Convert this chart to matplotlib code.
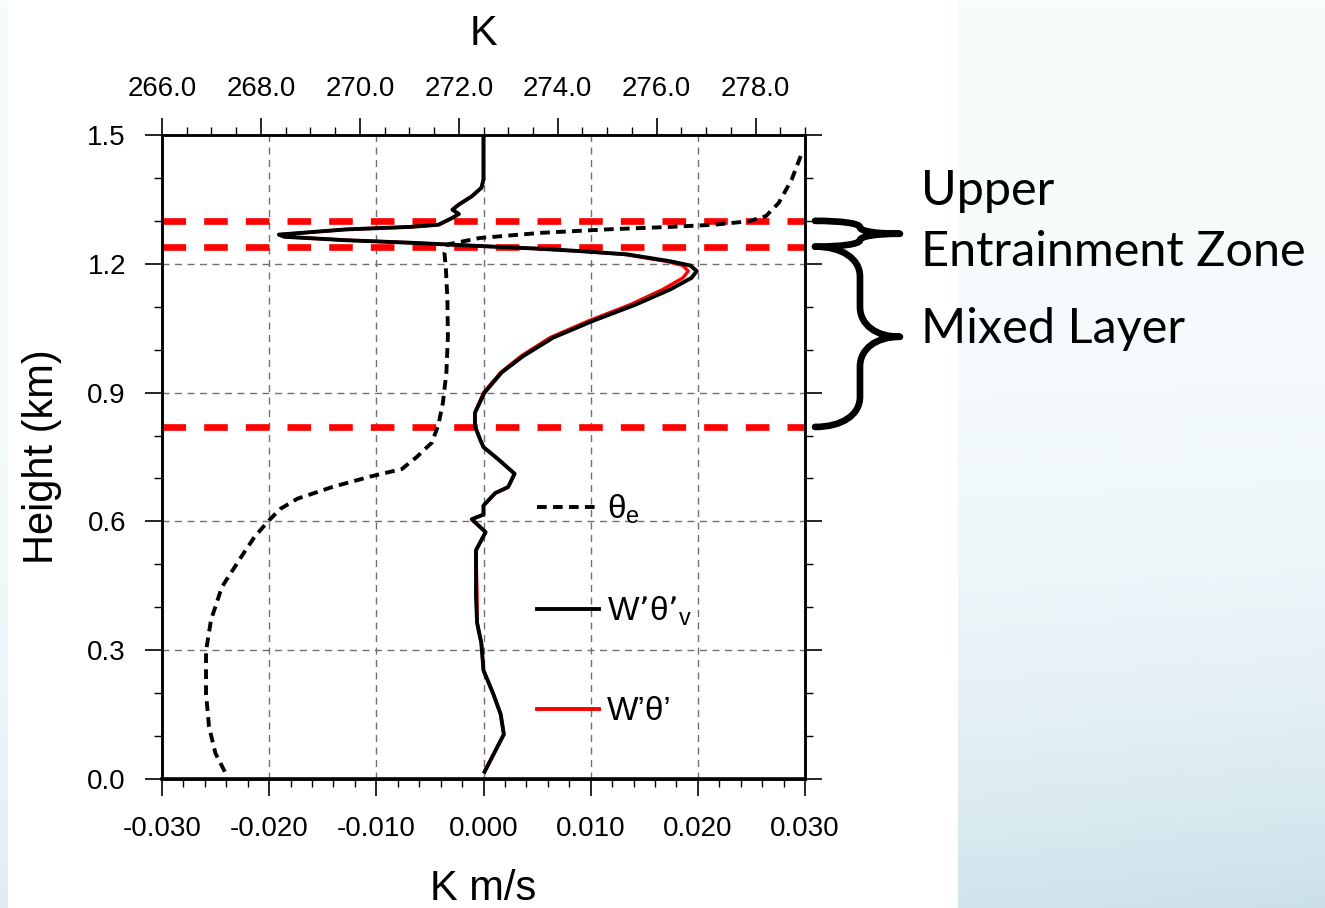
import numpy as np
import matplotlib
matplotlib.use("Agg")
import matplotlib.pyplot as plt
from matplotlib.lines import Line2D
from matplotlib.path import Path
from matplotlib.patches import PathPatch
import matplotlib.transforms as mtransforms

plt.rcParams['font.family'] = ['Liberation Sans', 'DejaVu Sans']
plt.rcParams['axes.unicode_minus'] = False
plt.rcParams['lines.scale_dashes'] = False

# ---- buoyancy flux W'theta'_v (K m/s) vs height (km)
wtv_height = [0.017, 0.104, 0.151, 0.199, 0.253, 0.316, 0.364, 0.424, 0.533, 0.575,
              0.605, 0.616, 0.637, 0.666, 0.680, 0.711, 0.742, 0.773, 0.790, 0.822,
              0.853, 0.900, 0.947, 0.985, 1.028, 1.067, 1.105, 1.140, 1.167, 1.183,
              1.196, 1.206, 1.222, 1.229, 1.235, 1.241, 1.249, 1.255, 1.263, 1.268,
              1.280, 1.286, 1.291, 1.307, 1.316, 1.326, 1.338, 1.357, 1.377, 1.396,
              1.500]
wtv_flux = [0.0001, 0.0019, 0.0016, 0.0009, 0.0000, -0.0002, -0.0006, -0.0007, -0.0007, 0.0002,
            -0.0011, 0.0000, 0.0000, 0.0011, 0.0023, 0.0029, 0.0015, 0.0000, -0.0003, -0.0008,
            -0.0008, 0.0001, 0.0017, 0.0037, 0.0065, 0.0102, 0.0142, 0.0174, 0.0194, 0.0199,
            0.0193, 0.0174, 0.0134, 0.0094, 0.0053, 0.0000, -0.0068, -0.0129, -0.0186, -0.0191,
            -0.0129, -0.0068, -0.0042, -0.0029, -0.0023, -0.0029, -0.0023, -0.0011, -0.0002, 0.0000,
            0.0000]

# ---- heat flux W'theta' (K m/s)
wt_height = wtv_height
wt_flux = [0.0001, 0.0019, 0.0016, 0.0009, 0.0000, -0.0002, -0.0006, -0.0006, -0.0007, 0.0002,
           -0.0011, 0.0000, 0.0000, 0.0011, 0.0023, 0.0029, 0.0015, 0.0000, -0.0003, -0.0008,
           -0.0008, 0.0000, 0.0016, 0.0035, 0.0062, 0.0098, 0.0137, 0.0167, 0.0186, 0.0191,
           0.0186, 0.0170, 0.0131, 0.0092, 0.0052, 0.0000, -0.0067, -0.0128, -0.0185, -0.0189,
           -0.0128, -0.0068, -0.0042, -0.0029, -0.0023, -0.0029, -0.0023, -0.0011, -0.0002, 0.0000,
           0.0000]

# ---- equivalent potential temperature (K)
te_height = [0.017, 0.060, 0.122, 0.199, 0.298, 0.370, 0.447, 0.517, 0.564, 0.602,
             0.629, 0.653, 0.680, 0.705, 0.722, 0.750, 0.784, 0.826, 0.877, 0.947,
             1.032, 1.117, 1.187, 1.226, 1.245, 1.260, 1.272, 1.280, 1.286, 1.291,
             1.299, 1.311, 1.342, 1.396, 1.462]
te_kelvin = [267.27, 267.08, 266.95, 266.89, 266.89, 266.99, 267.21, 267.60, 267.87, 268.16,
             268.39, 268.74, 269.44, 270.23, 270.85, 271.15, 271.46, 271.59, 271.68, 271.75,
             271.78, 271.77, 271.74, 271.71, 271.77, 272.42, 273.65, 274.97, 276.28, 277.16,
             277.86, 278.21, 278.47, 278.73, 278.95]

# ---- layer boundaries (km)
layer_tops = [1.30, 1.24, 0.82]
layer_names = ["Upper", "Entrainment Zone", "Mixed Layer"]

flux_ticks = [-0.03, -0.02, -0.01, 0.0, 0.01, 0.02, 0.03]
flux_labels = ["-0.030", "-0.020", "-0.010", "0.000", "0.010", "0.020", "0.030"]
height_ticks = [0.0, 0.3, 0.6, 0.9, 1.2, 1.5]
height_labels = ["0.0", "0.3", "0.6", "0.9", "1.2", "1.5"]
kelvin_ticks = [266, 268, 270, 272, 274, 276, 278]
kelvin_labels = ["266.0", "268.0", "270.0", "272.0", "274.0", "276.0", "278.0"]

W, H = 1325, 908
fig = plt.figure(figsize=(W / 100, H / 100), dpi=100)

# slide background: pale blue gradient with a white panel behind the plot
bg = fig.add_axes([0, 0, 1, 1], zorder=-10)
bg.set_axis_off()
yy, xx = np.mgrid[0:1:200j, 0:1:300j]
top_c = np.array([247, 252, 253]) / 255
bot_c = np.array([203, 225, 234]) / 255
f = (yy ** 3.0) * (0.55 + 0.45 * xx)
img = top_c[None, None, :] + (bot_c - top_c)[None, None, :] * f[..., None]
bg.imshow(img, extent=[0, 1, 0, 1], aspect='auto', origin='upper')
bg.add_patch(plt.Rectangle((8 / W, 0), (958 - 8) / W, 1, color='white', lw=0))
bg.set_xlim(0, 1)
bg.set_ylim(0, 1)

ax = fig.add_axes([162 / W, 1 - 779 / H, 643 / W, 644 / H])
ax.set_xlim(-0.03, 0.03)
ax.set_ylim(0, 1.5)
ax.set_axisbelow(True)

grid_kw = dict(color='#707070', lw=1.0, linestyle=(0, (5, 4)))
for xv in flux_ticks[1:-1]:
    ax.axvline(xv, zorder=0.5, **grid_kw)
for yv in height_ticks[1:-1]:
    ax.axhline(yv, zorder=0.5, **grid_kw)

for yv in layer_tops:
    ax.axhline(yv, color='#ff0000', lw=4.8, linestyle=(0, (17, 13)), zorder=1.5)

ax.plot(wt_flux, wt_height, color='#ff0000', lw=2.4, solid_joinstyle='round', zorder=2)
ax.plot(wtv_flux, wtv_height, color='black', lw=2.8, solid_joinstyle='round', zorder=2.5)

ax.set_xticks(flux_ticks)
ax.set_xticklabels(flux_labels)
ax.set_yticks(height_ticks)
ax.set_yticklabels(height_labels)
ax.set_xticks(np.linspace(-0.03, 0.03, 31), minor=True)
ax.set_yticks(np.linspace(0, 1.5, 16), minor=True)
ax.tick_params(axis='both', which='major', direction='out', length=12, width=1.2,
               labelsize=20, right=True)
ax.tick_params(axis='both', which='minor', direction='out', length=6, width=1.0, right=True)
ax.tick_params(axis='x', which='major', pad=15)
ax.tick_params(axis='y', which='major', pad=14)
for s in ax.spines.values():
    s.set_linewidth(1.8)
ax.spines['bottom'].set_linewidth(2.6)

ax.set_xlabel("K m/s", fontsize=30, labelpad=19)
ax.set_ylabel("Height (km)", fontsize=30, labelpad=18)

# theta_e on its own top axis
axt = ax.twiny()
axt.set_xlim(266, 279)
axt.plot(te_kelvin, te_height, color='black', lw=2.8, linestyle=(0, (7, 4.5)), zorder=3)
axt.set_xticks(kelvin_ticks)
axt.set_xticklabels(kelvin_labels)
axt.set_xticks(np.arange(266, 279.01, 0.5), minor=True)
axt.tick_params(axis='x', which='major', direction='out', length=12, width=1.2,
                labelsize=20, pad=12)
axt.tick_params(axis='x', which='minor', direction='out', length=6, width=1.0)
for s in axt.spines.values():
    s.set_linewidth(1.8)
axt.set_xlabel("K", fontsize=30, labelpad=22)

handles = [
    Line2D([], [], color='black', lw=2.8, linestyle=(0, (7, 4.5))),
    Line2D([], [], color='black', lw=2.8),
    Line2D([], [], color='#ff0000', lw=2.8),
]
labels = ["θ$_\\mathregular{e}$", "W’θ’$_\\mathregular{v}$", "W’θ’"]
axt.legend(handles, labels, loc='upper left', bbox_to_anchor=(0.583, 0.445),
           frameon=False, fontsize=24, handlelength=1.85, handletextpad=0.25,
           labelspacing=2.05, borderpad=0, borderaxespad=0)

# braces marking the layers, x in axes fraction, y in height
btr = mtransforms.blended_transform_factory(ax.transAxes, ax.transData)


def brace(x0, xm, x1, yt, yb, d):
    ym = 0.5 * (yt + yb)
    cx = x0 + 0.6 * (xm - x0)
    tx = xm + 0.4 * (x1 - xm)
    verts = [(x0, yt),
             (cx, yt), (xm, yt - 0.4 * d), (xm, yt - d),
             (xm, ym + d),
             (xm, ym + 0.4 * d), (tx, ym), (x1, ym),
             (tx, ym), (xm, ym - 0.4 * d), (xm, ym - d),
             (xm, yb + d),
             (xm, yb + 0.4 * d), (cx, yb), (x0, yb)]
    codes = [Path.MOVETO,
             Path.CURVE4, Path.CURVE4, Path.CURVE4,
             Path.LINETO,
             Path.CURVE4, Path.CURVE4, Path.CURVE4,
             Path.CURVE4, Path.CURVE4, Path.CURVE4,
             Path.LINETO,
             Path.CURVE4, Path.CURVE4, Path.CURVE4]
    p = PathPatch(Path(verts, codes), transform=btr, fill=False, lw=4.8,
                  edgecolor='black', capstyle='round', joinstyle='round', clip_on=False)
    ax.add_patch(p)


brace(1.0156, 1.0855, 1.1477, layer_tops[0], layer_tops[1],
      0.25 * (layer_tops[0] - layer_tops[1]))
brace(1.0156, 1.0855, 1.1477, layer_tops[1], layer_tops[2], 0.07)

txt_kw = dict(fontsize=35, family=['Lato', 'DejaVu Sans'], ha='left', va='baseline')
fig.text(921 / W, 1 - 205 / H, layer_names[0], **txt_kw)
fig.text(921 / W, 1 - 266 / H, layer_names[1], **txt_kw)
fig.text(921 / W, 1 - 343 / H, layer_names[2], **txt_kw)

fig.savefig("out.png", dpi=100)
